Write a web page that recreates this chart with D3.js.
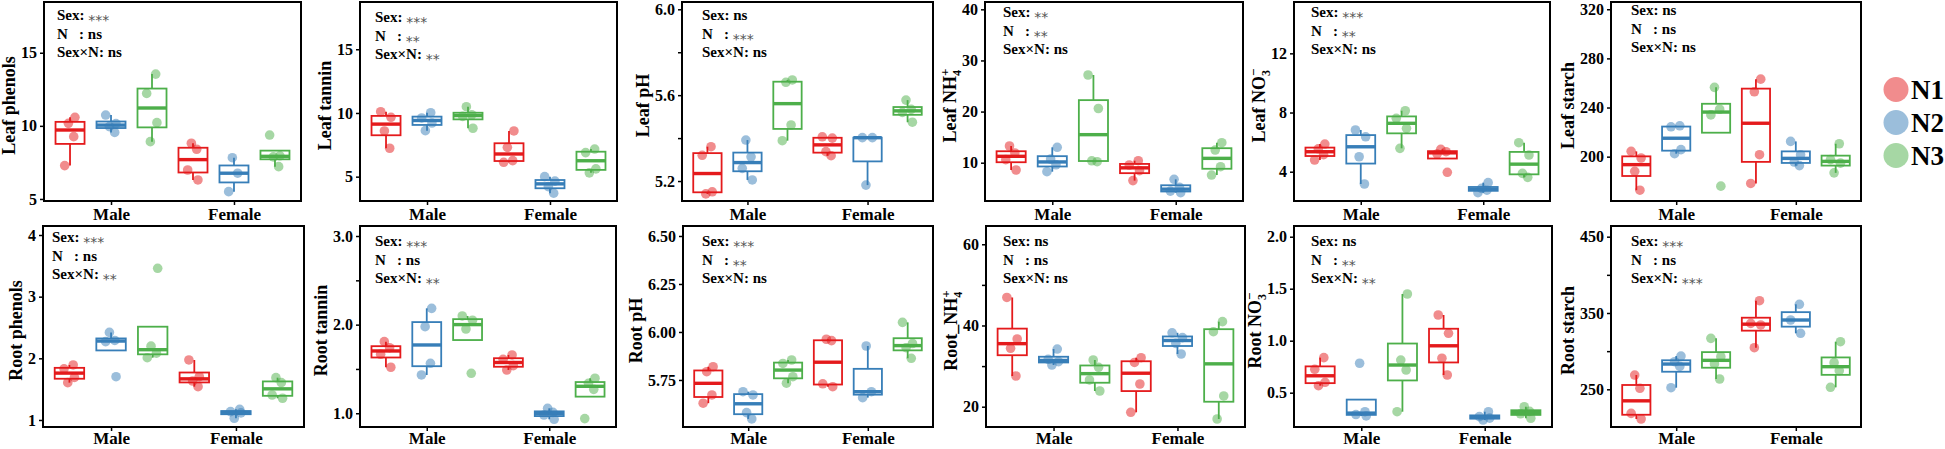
<!DOCTYPE html>
<html><head><meta charset="utf-8">
<script src="https://cdn.jsdelivr.net/npm/d3@7"></script>
<style>
body{margin:0;background:#fff;}
svg{display:block;}
text{font-family:"Liberation Serif","Times New Roman",serif;font-weight:bold;fill:#000;}
</style></head><body>
<svg id="chart" width="1945" height="449"></svg>
<script>
// ---------------- DATA ----------------
const sexes = ["Male", "Female"];
const nLevels = ["N1", "N2", "N3"];

// groups in order: Male N1, Male N2, Male N3, Female N1, Female N2, Female N3
const leafPhenols = [[7.28,9.26,10.17,10.58],[9.55,9.95,10.15,10.74],[8.92,10.22,12.22,13.54],[6.30,6.98,8.40,8.81],[5.50,6.76,7.82],[7.21,7.88,7.95,9.37]];
const leafTannin  = [[7.23,8.59,9.66,10.10],[8.61,9.21,9.61,10.02],[8.80,9.73,9.86,10.49],[6.13,6.26,7.30,8.59],[3.70,4.22,4.65,5.00],[5.30,5.61,6.89,7.17]];
const leafPH      = [[5.14,5.15,5.32,5.36],[5.205,5.259,5.313,5.391],[5.388,5.461,5.66,5.671],[5.318,5.337,5.40,5.406],[5.181,5.402,5.402],[5.474,5.52,5.534,5.577]];
const leafNH4     = [[8.57,10.6,11.9,13.27],[8.24,9.6,10.7,13.01],[10.2,10.37,20.6,27.15],[6.5,8.44,9.55,10.39],[4.13,4.45,5.2,6.75],[7.59,9.22,12.48,13.91]];
const leafNO3     = [[4.79,5.15,5.55,5.87],[3.17,5.01,6.36,6.82],[5.58,6.93,7.61,8.12],[3.96,5.2,5.35,5.51],[2.58,2.75,2.87,3.26],[3.62,3.89,5.13,5.96]];
const leafStarch  = [[172.7,188.1,198.9,204.3],[202.4,205.7,224.3,225.1],[176.0,234.0,238.6,256.4],[178.2,201.6,252.8,263.1],[192.7,195.6,201.6,212.4],[186.8,194.7,197.6,210.5]];
const rootPhenols = [[1.605,1.69,1.83,1.892],[1.702,2.27,2.29,2.42],[2.01,2.083,2.197,3.46],[1.54,1.632,1.702,1.973],[1.028,1.115,1.135,1.173],[1.352,1.405,1.605,1.686]];
const rootTannin  = [[1.519,1.666,1.74,1.808],[1.432,1.564,1.977,2.184],[1.451,1.951,2.05,2.098],[1.488,1.537,1.609,1.658],[0.932,0.98,1.01,1.056],[0.94,1.27,1.338,1.395]];
const rootPH      = [[5.629,5.672,5.793,5.819],[5.547,5.58,5.672,5.689],[5.733,5.767,5.836,5.854],[5.715,5.73,5.955,5.962],[5.658,5.689,5.927],[5.863,5.918,5.94,6.05]];
const rootNH4     = [[27.56,34.38,36.67,46.9],[30.27,31.1,31.67,34.2],[23.87,26.58,29.7,31.5],[18.62,25.59,30.9,32.07],[32.98,35.6,37.0,38.2],[16.97,22.64,38.47,40.94]];
const rootNO3     = [[0.567,0.6,0.725,0.837],[0.276,0.29,0.317,0.783],[0.317,0.718,0.814,1.449],[0.67,0.831,1.071,1.247],[0.237,0.255,0.27,0.317],[0.254,0.297,0.32,0.365]];
const rootStarch  = [[211.1,218.5,251.3,268.7],[252.1,280,286.2,293.6],[263.5,283.2,292.7,316.8],[304.5,334.3,336.4,366.1],[323.4,340.8,361.4],[252.6,274.4,284.9,312.4]];

const sexSig   = ["***","***","ns","**","***","ns","***","***","***","ns","ns","***"];
const nSig     = ["ns","**","***","**","**","ns","ns","ns","**","ns","**","ns"];
const sexNSig  = ["ns","**","ns","ns","ns","ns","**","**","ns","ns","**","***"];

// titles: [main, subscript, superscript]
const titles = [
  ["Leaf phenols","",""],["Leaf tannin","",""],["Leaf pH","",""],["Leaf NH","4","+"],["Leaf NO","3","\u2212"],["Leaf starch","",""],
  ["Root phenols","",""],["Root tannin","",""],["Root pH","",""],["Root_NH","4","+"],["Root NO","3","\u2212"],["Root starch","",""]
];

const yDomains = [[4.86,18.47],[3.09,18.71],[5.107,6.034],[2.51,41.43],[2.02,15.47],[163.9,325.9],
                  [0.886,4.146],[0.845,3.113],[5.505,6.552],[15.0,64.5],[0.170,2.103],[200.6,464]];
const yTicks = [[5,10,15],[5,10,15],[5.2,5.4,5.6,5.8,6.0],[10,20,30,40],[4,8,12],[200,240,280,320],
                [1,2,3,4],[1,1.5,2,2.5,3],[5.75,6,6.25,6.5],[20,30,40,50,60],[0.5,1,1.5,2],[250,300,350,400,450]];
const yTickLabels = [["5","10","15"],["5","10","15"],["5.2","","5.6","","6.0"],["10","20","30","40"],["4","8","12"],["200","240","280","320"],
                     ["1","2","3","4"],["1.0","","2.0","","3.0"],["5.75","6.00","6.25","6.50"],["20","","40","","60"],["0.5","1.0","1.5","2.0"],["250","","350","","450"]];

const panelValues = [leafPhenols, leafTannin, leafPH, leafNH4, leafNO3, leafStarch,
                     rootPhenols, rootTannin, rootPH, rootNH4, rootNO3, rootStarch];

// ---------------- LAYOUT / STYLE ----------------
const colors = ["#E41A1C", "#377EB8", "#4DAF4A"];
const panelLeft  = [44, 360, 682, 985, 1294, 1611, 43, 360, 683, 986, 1294, 1611];
const panelRight = [301, 617, 933, 1243, 1550, 1861, 304, 616, 933, 1245, 1552, 1861];
const rowTop = [2, 226], rowBottom = [201, 427];
const annX = [13, 15, 20, 18, 17, 20, 9, 15, 19, 17, 17, 20];
const annY = [20, 22, 20, 17, 17, 15, 242, 246, 246, 246, 246, 246];
const jitter = [-0.13, 0.09, -0.04, 0.12];

const svg = d3.select("#chart");

panelValues.forEach((vals, k) => {
  const row = k < 6 ? 0 : 1;
  const L = panelLeft[k], R = panelRight[k], T = rowTop[row], B = rowBottom[row];
  const x = d3.scaleLinear().domain([0.455, 2.545]).range([L, R]);
  const y = d3.scaleLinear().domain(yDomains[k]).range([B, T]);
  const g = svg.append("g");

  // frame
  g.append("rect").attr("x", L).attr("y", T).attr("width", R - L).attr("height", B - T)
    .attr("fill", "none").attr("stroke", "#000").attr("stroke-width", 2);

  // y axis
  const ya = g.append("g").attr("transform", `translate(${L},0)`)
    .call(d3.axisLeft(y).tickValues(yTicks[k]).tickFormat((d, i) => yTickLabels[k][i]).tickSize(4).tickPadding(3).tickSizeOuter(0));
  ya.select(".domain").remove();
  ya.selectAll("line").attr("stroke", "#000").attr("stroke-width", 1.5);
  ya.selectAll("text").style("font-size", "16px");
  let maxW = 0;
  ya.selectAll("text").each(function () { maxW = Math.max(maxW, this.getBBox().width); });

  // x axis
  const xa = g.append("g").attr("transform", `translate(0,${B})`)
    .call(d3.axisBottom(x).tickValues([1, 2]).tickFormat(d => sexes[d - 1]).tickSize(4).tickPadding(row === 0 ? 3 : 1).tickSizeOuter(0));
  xa.select(".domain").remove();
  xa.selectAll("line").attr("stroke", "#000").attr("stroke-width", 1.5);
  xa.selectAll("text").style("font-size", "17px");

  // y title
  const tx = L - 4 - 3 - maxW - 6, ty = (T + B) / 2 + 4;
  const tt = g.append("text").attr("transform", `translate(${tx},${ty}) rotate(-90)`)
    .attr("text-anchor", "middle").style("font-size", "18px");
  tt.append("tspan").text(titles[k][0]);
  if (titles[k][1]) {
    tt.append("tspan").attr("dy", 5).style("font-size", "12px").text(titles[k][1]);
    tt.append("tspan").attr("dy", -12).attr("dx", -6).style("font-size", "13px").text(titles[k][2]);
  }

  const bw = x(0.236) - x(0);
  const dodge = x(1 / 3) - x(0);

  // boxes
  vals.forEach((v, gi) => {
    const si = Math.floor(gi / 3), ni = gi % 3;
    const cx = x(si + 1 + (ni - 1) / 3);
    const s = v.slice().sort(d3.ascending);
    const q1 = d3.quantile(s, 0.25), med = d3.quantile(s, 0.5), q3 = d3.quantile(s, 0.75);
    const iqr = q3 - q1;
    const lo = d3.min(s.filter(d => d >= q1 - 1.5 * iqr));
    const hi = d3.max(s.filter(d => d <= q3 + 1.5 * iqr));
    const c = colors[ni];
    const bg = g.append("g");
    bg.append("line").attr("x1", cx).attr("x2", cx).attr("y1", y(q3)).attr("y2", y(hi)).attr("stroke", c).attr("stroke-width", 1.8);
    bg.append("line").attr("x1", cx).attr("x2", cx).attr("y1", y(q1)).attr("y2", y(lo)).attr("stroke", c).attr("stroke-width", 1.8);
    bg.append("rect").attr("x", cx - bw / 2).attr("width", bw).attr("y", y(q3)).attr("height", Math.max(0.5, y(q1) - y(q3)))
      .attr("fill", "#fff").attr("stroke", c).attr("stroke-width", 1.8);
    bg.append("line").attr("x1", cx - bw / 2).attr("x2", cx + bw / 2).attr("y1", y(med)).attr("y2", y(med)).attr("stroke", c).attr("stroke-width", 3.4);
  });

  // points
  vals.forEach((v, gi) => {
    const si = Math.floor(gi / 3), ni = gi % 3;
    const cx = x(si + 1 + (ni - 1) / 3);
    g.selectAll(null).data(v).enter().append("circle")
      .attr("cx", (d, i) => cx + jitter[(i + gi + k) % 4] * dodge)
      .attr("cy", d => y(d)).attr("r", 4.8)
      .attr("fill", colors[ni]).attr("fill-opacity", 0.5);
  });

  // annotations
  const lines = [["Sex: ", sexSig[k]], ["N   : ", nSig[k]], ["Sex\u00D7N: ", sexNSig[k]]];
  lines.forEach((ln, li) => {
    const t = g.append("text").attr("x", L + annX[k]).attr("y", annY[k] + li * 18.5)
      .attr("xml:space", "preserve").style("white-space", "pre").style("font-size", "15px");
    t.append("tspan").text(ln[0]);
    if (ln[1] === "ns") t.append("tspan").text("ns");
    else t.append("tspan").attr("dy", 5).style("font-family", "DejaVu Sans").style("font-weight", "normal")
      .style("font-size", "14px").style("fill", "#555").text(ln[1]);
  });
});

// legend
const legendY = [89.5, 122.5, 155.5];
nLevels.forEach((n, i) => {
  svg.append("circle").attr("cx", 1896).attr("cy", legendY[i]).attr("r", 12.5)
    .attr("fill", colors[i]).attr("fill-opacity", 0.5);
  svg.append("text").attr("x", 1911).attr("y", legendY[i] + 9.5).style("font-size", "27px").text(n);
});
</script>
</body></html>
